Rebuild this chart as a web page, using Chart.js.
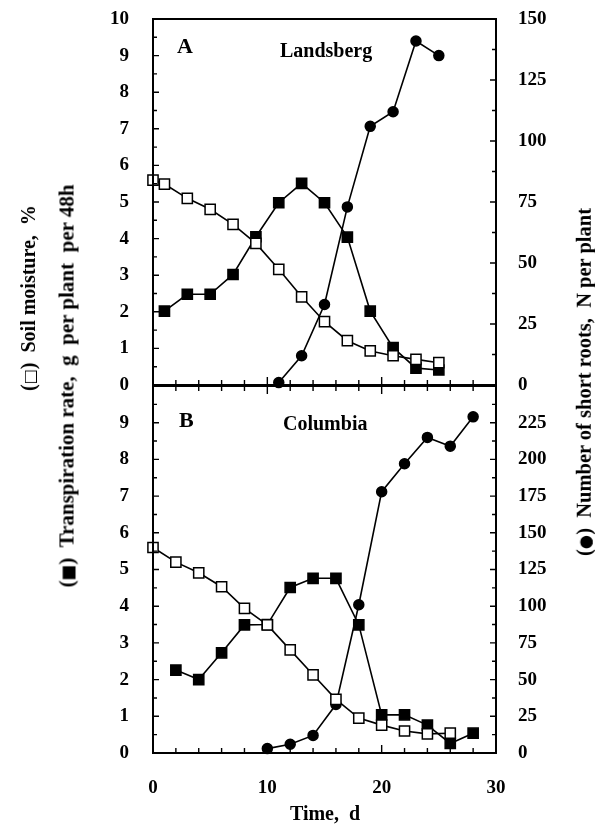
<!DOCTYPE html>
<html>
<head>
<meta charset="utf-8">
<script src="https://cdn.jsdelivr.net/npm/chart.js@4.4.1/dist/chart.umd.min.js"></script>
<style>
  body { margin: 0; background: #fff; }
  #wrap { position: relative; width: 595px; height: 831px; overflow: hidden;
          font-family: "Liberation Serif", "Times New Roman", serif; font-weight: bold; color: #000; }
  canvas { position: absolute; left: 0; }
  .txt { position: absolute; white-space: pre; line-height: 1; }
  .rot { position: absolute; white-space: pre; line-height: 1; font-size: 20px;
         transform: translate(-50%, -50%) rotate(-90deg); }
  .sym { font-family: "DejaVu Sans", sans-serif; font-size: 0.8em; }
</style>
</head>
<body>
<div id="wrap">
  <canvas id="chartA" width="595" height="400" style="top:0"></canvas>
  <canvas id="chartB" width="595" height="461" style="top:370px"></canvas>

  <div class="txt" style="left:177px;top:35px;font-size:22px">A</div>
  <div class="txt" style="left:280px;top:40px;font-size:20px">Landsberg</div>
  <div class="txt" style="left:179px;top:409px;font-size:22px">B</div>
  <div class="txt" style="left:283px;top:413px;font-size:20px">Columbia</div>

  <div class="rot" style="left:28px;top:298px">(<span class="sym">□</span>)  Soil moisture,  %</div>
  <div class="rot" style="left:67px;top:386px;font-size:21px">(<span class="sym">■</span>)  Transpiration rate,  g  per plant  per 48h</div>
  <div class="rot" style="left:584px;top:382px;font-size:20.5px">(<span class="sym">●</span>)  Number of short roots,  N per plant</div>
  <div class="txt" style="left:325px;top:803px;font-size:20px;transform:translateX(-50%)">Time,  d</div>
</div>

<script>
// Panel A - Landsberg
const daysMoistA = [0, 1, 3, 5, 7, 9, 11, 13, 15, 17, 19, 21, 23, 25];
const moistA = [5.60, 5.49, 5.10, 4.80, 4.39, 3.87, 3.16, 2.41, 1.73, 1.21, 0.93, 0.80, 0.70, 0.61];
const daysTranspA = [1, 3, 5, 7, 9, 11, 13, 15, 17, 19, 21, 23, 25];
const transpA = [2.02, 2.48, 2.48, 3.02, 4.05, 4.98, 5.51, 4.98, 4.04, 2.02, 1.02, 0.46, 0.41];
const daysRootsA = [11, 13, 15, 17, 19, 21, 23, 25];
const rootsA = [1, 12, 33, 73, 106, 112, 141, 135];

// Panel B - Columbia
const daysMoistB = [0, 2, 4, 6, 8, 10, 12, 14, 16, 18, 20, 22, 24, 26];
const moistB = [5.60, 5.20, 4.91, 4.53, 3.94, 3.49, 2.81, 2.13, 1.46, 0.95, 0.76, 0.60, 0.52, 0.54];
const daysTranspB = [2, 4, 6, 8, 10, 12, 14, 16, 18, 20, 22, 24, 26, 28];
const transpB = [2.26, 2.00, 2.73, 3.49, 3.50, 4.51, 4.76, 4.76, 3.49, 1.04, 1.04, 0.76, 0.26, 0.54];
const daysRootsB = [10, 12, 14, 16, 18, 20, 22, 24, 26, 28];
const rootsB = [3, 6, 12, 33, 101, 178, 197, 215, 209, 229];

// axes
const xTicks = [0, 10, 20, 30];
const leftMax = 10;
const rightMaxA = 150;
const rightMaxB = 250;

const tickFont = { family: "Liberation Serif", size: 19, weight: "bold" };

function pts(xs, ys) {
  return xs.map(function (x, i) { return { x: x, y: ys[i] }; });
}

function series(xs, ys, style, axis) {
  const open = style === "open";
  return {
    data: pts(xs, ys),
    yAxisID: axis,
    borderColor: "#000",
    borderWidth: 1.6,
    pointStyle: style === "circle" ? "circle" : "rect",
    pointRadius: style === "circle" ? 5 : 7.2,
    pointBackgroundColor: open ? "#fff" : "#000",
    pointBorderColor: "#000",
    pointBorderWidth: 1.5,
    tension: 0,
    fill: false,
    clip: false,
  };
}

// frame and inward ticks, drawn from the chart scales
const frameTicks = {
  id: "frameTicks",
  afterDraw(chart, args, opts) {
    const ctx = chart.ctx;
    const a = chart.chartArea;
    const sx = chart.scales.x, sy = chart.scales.y, sy2 = chart.scales.y2;
    ctx.save();
    ctx.strokeStyle = "#000";
    ctx.lineWidth = 2;
    ctx.strokeRect(a.left, a.top, a.right - a.left, a.bottom - a.top);
    ctx.lineWidth = 1.4;
    ctx.beginPath();
    for (let d = 2; d < sx.max; d += 2) {
      const px = sx.getPixelForValue(d);
      const len = d % 10 === 0 ? 8 : 5;
      ctx.moveTo(px, a.bottom); ctx.lineTo(px, a.bottom - len);
      if (opts.topTicks) { ctx.moveTo(px, a.top); ctx.lineTo(px, a.top + len); }
    }
    for (let v = 0.5; v < sy.max; v += 0.5) {
      const py = sy.getPixelForValue(v);
      const len = v % 1 === 0 ? 6 : 4;
      ctx.moveTo(a.left, py); ctx.lineTo(a.left + len, py);
    }
    const st = 12.5;
    for (let v = st; v < sy2.max; v += st) {
      const py = sy2.getPixelForValue(v);
      const len = v % 25 === 0 ? 6 : 4;
      ctx.moveTo(a.right, py); ctx.lineTo(a.right - len, py);
    }
    ctx.stroke();
    ctx.restore();
  },
};

function noEndPadding(s, w) {
  s.width = w;
  s.paddingTop = 0;
  s.paddingBottom = 0;
}

function makeChart(id, d, cfg) {
  return new Chart(document.getElementById(id), {
    type: "line",
    data: {
      datasets: [
        series(d.moistX, d.moist, "open", "y"),
        series(d.transpX, d.transp, "filled", "y"),
        series(d.rootsX, d.roots, "circle", "y2"),
      ],
    },
    options: {
      responsive: false,
      animation: false,
      devicePixelRatio: 1,
      layout: { padding: { top: cfg.top, bottom: cfg.bottom, left: 0, right: 0 } },
      plugins: { legend: { display: false }, tooltip: { enabled: false }, frameTicks: { topTicks: cfg.topTicks } },
      scales: {
        x: {
          type: "linear",
          min: 0,
          max: 30,
          display: cfg.showX,
          grid: { display: false, drawTicks: false },
          border: { display: false },
          afterBuildTicks: function (s) { s.ticks = xTicks.map(function (v) { return { value: v }; }); },
          ticks: { font: tickFont, color: "#000", padding: 24, maxRotation: 0 },
          afterFit: function (s) { s.height = cfg.xHeight; s.paddingLeft = 0; s.paddingRight = 0; },
        },
        y: {
          position: "left",
          min: 0,
          max: leftMax,
          grid: { display: false, drawTicks: false },
          border: { display: false },
          ticks: {
            stepSize: 1, font: tickFont, color: "#000", padding: 24,
            callback: function (v) { return v === leftMax && cfg.hideTop ? "" : v; },
          },
          afterFit: function (s) { noEndPadding(s, 153); },
        },
        y2: {
          position: "right",
          min: 0,
          max: cfg.rightMax,
          grid: { display: false, drawTicks: false },
          border: { display: false },
          ticks: {
            stepSize: 25, font: tickFont, color: "#000", padding: 22,
            callback: function (v) { return v === cfg.rightMax && cfg.hideTop ? "" : v; },
          },
          afterFit: function (s) { noEndPadding(s, 99); },
        },
      },
    },
    plugins: [frameTicks],
  });
}

makeChart("chartA", {
  moistX: daysMoistA, moist: moistA,
  transpX: daysTranspA, transp: transpA,
  rootsX: daysRootsA, roots: rootsA,
}, { top: 19, bottom: 15, showX: false, xHeight: 0, rightMax: rightMaxA, hideTop: false, topTicks: false });

makeChart("chartB", {
  moistX: daysMoistB, moist: moistB,
  transpX: daysTranspB, transp: transpB,
  rootsX: daysRootsB, roots: rootsB,
}, { top: 16, bottom: 0, showX: true, xHeight: 78, rightMax: rightMaxB, hideTop: true, topTicks: true });
</script>
</body>
</html>
